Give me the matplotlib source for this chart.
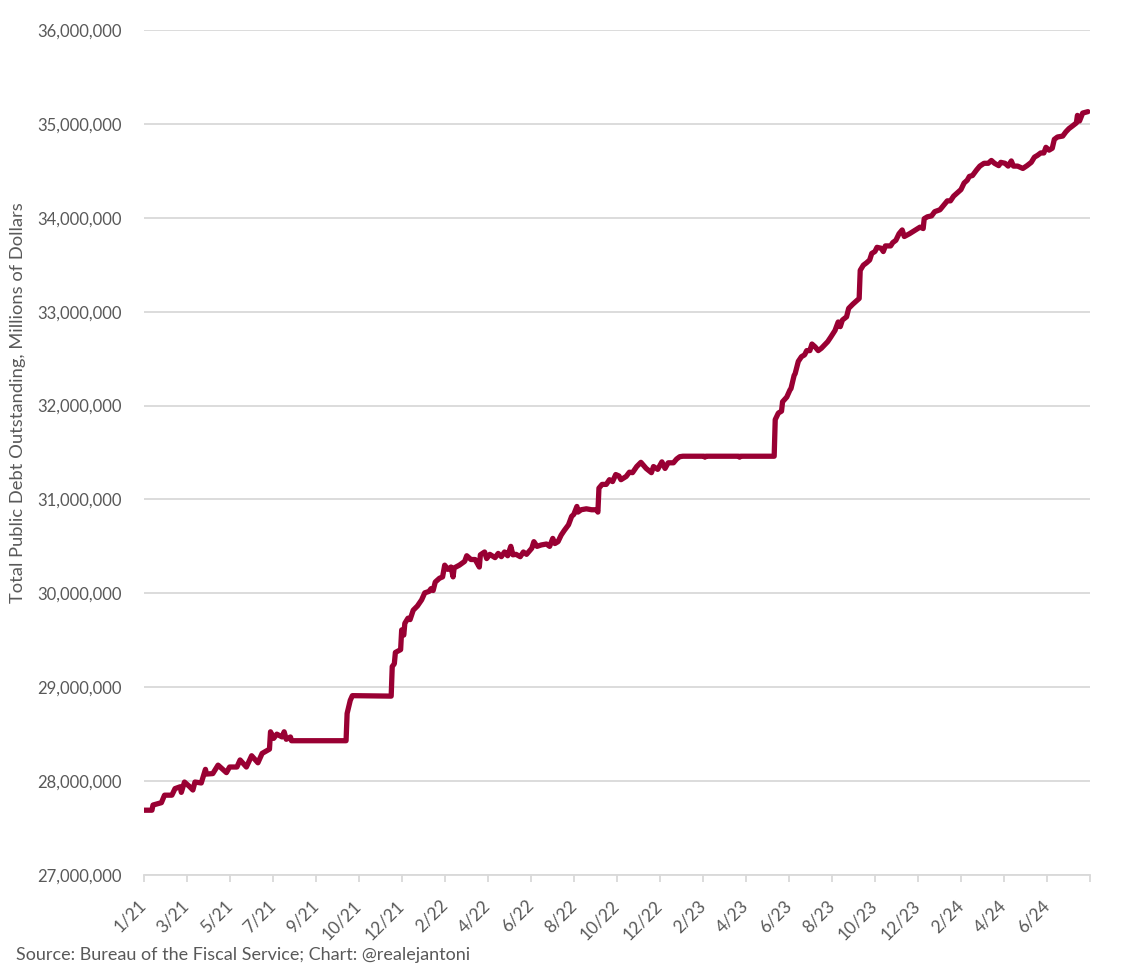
import numpy as np
import matplotlib
matplotlib.use("Agg")
import matplotlib.pyplot as plt
from matplotlib.ticker import FuncFormatter

plt.rcParams['font.family'] = ['Lato', 'DejaVu Sans']

# Business-day index (one tick label every 41 days) and total debt, trillions of dollars
day = [0, 8, 9, 17, 20, 27, 30, 35, 36, 39, 44, 47, 49, 55, 59, 60, 66, 71, 79, 82,
       89, 92, 98, 103, 109, 113, 120, 121, 124, 127, 132, 134, 136, 140, 141, 193,
       194, 197, 199, 236, 237, 239, 240, 245, 246, 248, 249, 252, 254, 257, 261, 265,
       268, 272, 274, 276, 278, 282, 285, 287, 290, 293, 295, 296, 301, 306, 308, 312,
       316, 320, 321, 325, 327, 330, 335, 338, 341, 344, 347, 350, 352, 355, 359, 362,
       365, 370, 372, 375, 379, 384, 387, 390, 392, 395, 398, 401, 405, 408, 410, 413,
       414, 417, 422, 427, 432, 433, 434, 437, 441, 444, 447, 450, 453, 455, 460, 463,
       466, 470, 474, 479, 484, 486, 490, 494, 497, 500, 505, 508, 511, 514, 534, 535,
       536, 567, 568, 569, 601, 602, 605, 608, 609, 613, 616, 617, 620, 621, 624, 627,
       630, 632, 635, 637, 640, 643, 646, 649, 652, 655, 659, 662, 664, 666, 670, 672,
       676, 680, 682, 683, 686, 689, 692, 694, 697, 699, 703, 705, 707, 712, 714, 717,
       720, 723, 725, 730, 735, 740, 743, 744, 747, 751, 754, 759, 762, 766, 769, 772,
       776, 779, 782, 785, 787, 790, 794, 797, 801, 805, 808, 811, 815, 817, 821, 824,
       827, 829, 833, 838, 842, 846, 849, 852, 855, 858, 860, 863, 866, 868, 871, 876,
       879, 882, 885, 889, 890, 892, 895, 900]
debt_tn = [27.69, 27.69, 27.745, 27.77, 27.85, 27.85, 27.92, 27.94, 27.88, 27.99, 27.94,
           27.905, 27.99, 27.98, 28.125, 28.075, 28.08, 28.17, 28.09, 28.15, 28.15, 28.225,
           28.15, 28.27, 28.195, 28.295, 28.34, 28.525, 28.455, 28.50, 28.47, 28.525, 28.445,
           28.47, 28.43, 28.43, 28.72, 28.86, 28.91, 28.905, 29.22, 29.25, 29.37, 29.40,
           29.61, 29.555, 29.68, 29.735, 29.72, 29.82, 29.865, 29.93, 30.005, 30.02, 30.05,
           30.03, 30.12, 30.16, 30.175, 30.30, 30.255, 30.28, 30.175, 30.27, 30.30, 30.34,
           30.40, 30.36, 30.36, 30.28, 30.41, 30.44, 30.37, 30.415, 30.38, 30.425, 30.39,
           30.44, 30.40, 30.50, 30.41, 30.415, 30.39, 30.44, 30.415, 30.48, 30.55, 30.50,
           30.515, 30.525, 30.50, 30.585, 30.53, 30.55, 30.62, 30.67, 30.73, 30.82, 30.84,
           30.925, 30.865, 30.89, 30.90, 30.89, 30.89, 30.865, 31.12, 31.16, 31.16, 31.21,
           31.19, 31.265, 31.25, 31.21, 31.245, 31.29, 31.285, 31.35, 31.395, 31.33, 31.285,
           31.35, 31.32, 31.40, 31.33, 31.39, 31.39, 31.43, 31.455, 31.46, 31.46, 31.45,
           31.46, 31.46, 31.45, 31.46, 31.46, 31.85, 31.92, 31.94, 32.04, 32.09, 32.165,
           32.18, 32.32, 32.34, 32.47, 32.52, 32.54, 32.585, 32.585, 32.655, 32.625, 32.585,
           32.61, 32.645, 32.68, 32.73, 32.80, 32.89, 32.84, 32.91, 32.945, 33.035, 33.08,
           33.12, 33.14, 33.44, 33.495, 33.52, 33.55, 33.62, 33.64, 33.685, 33.675, 33.64,
           33.70, 33.70, 33.735, 33.76, 33.83, 33.87, 33.80, 33.83, 33.865, 33.90, 33.885,
           33.99, 34.01, 34.02, 34.065, 34.085, 34.125, 34.18, 34.18, 34.23, 34.27, 34.30,
           34.37, 34.40, 34.44, 34.45, 34.51, 34.55, 34.58, 34.58, 34.61, 34.58, 34.555,
           34.59, 34.58, 34.55, 34.605, 34.55, 34.55, 34.525, 34.555, 34.59, 34.645, 34.665,
           34.69, 34.69, 34.75, 34.72, 34.74, 34.835, 34.86, 34.87, 34.915, 34.95, 34.975,
           35.01, 35.09, 35.03, 35.115, 35.13]

tick_labels = ["1/21", "3/21", "5/21", "7/21", "9/21", "10/21", "12/21", "2/22", "4/22",
               "6/22", "8/22", "10/22", "12/22", "2/23", "4/23", "6/23", "8/23", "10/23",
               "12/23", "2/24", "4/24", "6/24"]
LABEL_EVERY = 41
N_DAYS = 902

debt = np.array(debt_tn) * 1e6  # millions of dollars

GRID = '#d9d9d9'
TEXT = '#595959'

fig = plt.figure(figsize=(11.25, 9.76), dpi=100)
ax = fig.add_axes([0.1276, 0.1035, 0.9689 - 0.1276, 0.9693 - 0.1035])

ax.plot(day, debt, color='#990033', lw=3.8, solid_joinstyle='round', solid_capstyle='round')

ax.set_xlim(0, N_DAYS)
ax.set_ylim(27e6, 36e6)
ax.set_yticks(np.arange(27e6, 36e6 + 1, 1e6))
ax.yaxis.set_major_formatter(FuncFormatter(lambda v, p: f"{v:,.0f}"))
ax.grid(axis='y', color=GRID, lw=1.3)
ax.set_axisbelow(True)

ticks = np.arange(0, N_DAYS + 1, LABEL_EVERY)
ax.set_xticks(ticks)
ax.set_xticklabels(tick_labels + [""], rotation=45, ha='right', va='center',
                   rotation_mode='anchor')

for s in ['top', 'right', 'left']:
    ax.spines[s].set_visible(False)
ax.spines['bottom'].set_color(GRID)
ax.spines['bottom'].set_linewidth(1.3)
ax.tick_params(axis='x', colors=TEXT, labelsize=12.5, length=5, width=1.3, color=GRID, pad=15)
ax.tick_params(axis='y', colors=TEXT, labelsize=12, length=0, pad=15.5)

ax.set_ylabel("Total Public Debt Outstanding, Millions of Dollars", color=TEXT, fontsize=13.2)
ax.yaxis.set_label_coords(-0.124, 0.5586)

fig.text(0.014, 0.0215, "Source: Bureau of the Fiscal Service; Chart: @realejantoni",
         color=TEXT, fontsize=13, va='center')

fig.savefig("out.png", dpi=100)
